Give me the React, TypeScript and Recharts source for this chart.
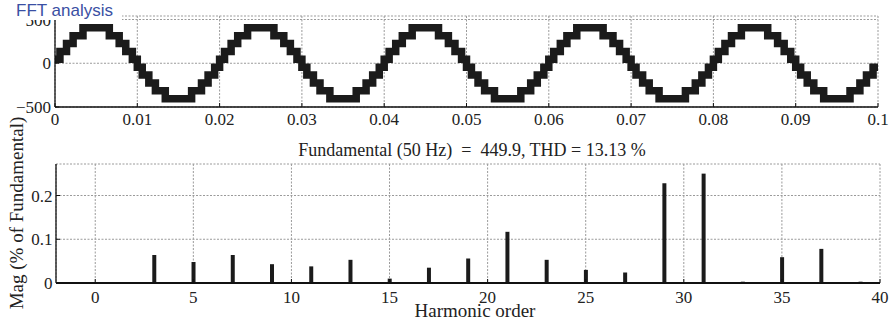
import { LineChart, Line, BarChart, Bar, XAxis, YAxis, CartesianGrid } from "recharts";

// top panel: staircase output voltage, one half-cycle
const timeTicks = [0, 0.01, 0.02, 0.03, 0.04, 0.05, 0.06, 0.07, 0.08, 0.09, 0.1];
const voltTicks = [-500, 0, 500];
const cycleStarts = [0, 0.02, 0.04, 0.06, 0.08];
const halfPeriod = 0.01;
const stepTimes = [0, 0.0006, 0.0014, 0.0022, 0.0034, 0.0066, 0.0078, 0.0086, 0.0094];
const stepLevels = [45, 135, 225, 315, 405, 315, 225, 135, 45];

// bottom panel: harmonic spectrum
const harmonicOrders = [
  0, 1, 2, 3, 4, 5, 6, 7, 8, 9, 10, 11, 12, 13, 14, 15, 16, 17, 18, 19, 20,
  21, 22, 23, 24, 25, 26, 27, 28, 29, 30, 31, 32, 33, 34, 35, 36, 37, 38, 39, 40,
];
const harmonicMag = [
  0, 0, 0, 0.064, 0, 0.048, 0, 0.064, 0, 0.043, 0, 0.038, 0, 0.053, 0, 0.01, 0, 0.035, 0, 0.056, 0,
  0.117, 0, 0.053, 0, 0.03, 0, 0.024, 0, 0.228, 0, 0.25, 0, 0.003, 0, 0.059, 0, 0.078, 0, 0.003, 0,
];
const orderTicks = [0, 5, 10, 15, 20, 25, 30, 35, 40];
const magTicks = [0, 0.1, 0.2];

const waveData: { t: number; v: number }[] = [];
cycleStarts.forEach((c) => {
  [1, -1].forEach((sign, h) => {
    stepTimes.forEach((t, i) => {
      waveData.push({ t: c + h * halfPeriod + t, v: sign * stepLevels[i] });
    });
  });
});
waveData.push({ t: 0.1, v: -stepLevels[0] });

const spectrumData = harmonicOrders.map((n, i) => ({ n, mag: harmonicMag[i] }));

const serif = "'Liberation Serif', 'Times New Roman', serif";
const tickStyle = { fill: "#222", fontSize: 17, fontFamily: serif };
const grid = { stroke: "#9a9a9a", strokeDasharray: "2 1.5" };
const frame = { stroke: "#111", strokeWidth: 1.3 };
const fmtNum = (v: number) => (v < 0 ? "\u2212" + Math.abs(v) : String(v));

export default function App() {
  return (
    <div style={{ position: "absolute", left: 0, top: 0, width: 896, height: 324, background: "#fff" }}>
      <div style={{ position: "absolute", left: 0, top: 0 }}>
        <LineChart width={896} height={130} data={waveData} margin={{ top: 16, right: 18, bottom: 0, left: 0 }}>
          <CartesianGrid {...grid} />
          <XAxis
            dataKey="t"
            type="number"
            domain={[0, 0.1]}
            ticks={timeTicks}
            interval={0}
            height={23}
            tickSize={-4}
            tickMargin={9.5}
            tick={tickStyle}
            tickFormatter={fmtNum}
            axisLine={frame}
            tickLine={{ stroke: "#111" }}
          />
          <XAxis
            xAxisId="top"
            orientation="top"
            type="number"
            domain={[0, 0.1]}
            ticks={timeTicks}
            interval={0}
            height={0}
            tickSize={-4}
            tick={false}
            axisLine={frame}
            tickLine={{ stroke: "#111" }}
          />
          <YAxis
            type="number"
            domain={[-500, 540]}
            ticks={voltTicks}
            interval={0}
            width={55}
            tickSize={-4}
            tickMargin={8}
            tick={tickStyle}
            tickFormatter={fmtNum}
            axisLine={frame}
            tickLine={{ stroke: "#111" }}
          />
          <YAxis
            yAxisId="right"
            orientation="right"
            type="number"
            domain={[-500, 540]}
            ticks={voltTicks}
            width={0}
            tickSize={-4}
            tick={false}
            axisLine={frame}
            tickLine={{ stroke: "#111" }}
          />
          <Line
            type="stepAfter"
            dataKey="v"
            stroke="#1b1b1b"
            strokeWidth={7.5}
            dot={false}
            isAnimationActive={false}
          />
        </LineChart>
      </div>

      <div
        style={{
          position: "absolute",
          left: 14,
          top: 0,
          width: 106,
          height: 20,
          background: "#fff",
          color: "#3a4fa3",
          fontFamily: "'Liberation Sans', Arial, sans-serif",
          fontSize: 17,
          lineHeight: "21px",
          paddingLeft: 2,
          whiteSpace: "nowrap",
        }}
      >
        FFT analysis
      </div>

      <div style={{ position: "absolute", left: 0, top: 130 }}>
        <BarChart width={896} height={194} data={spectrumData} margin={{ top: 34, right: 16, bottom: 0, left: 0 }}>
          <CartesianGrid {...grid} />
          <XAxis
            dataKey="n"
            type="number"
            domain={[-2, 40]}
            ticks={orderTicks}
            interval={0}
            height={41}
            tickSize={-4}
            tickMargin={12}
            tick={tickStyle}
            axisLine={{ stroke: "#111", strokeWidth: 2 }}
            tickLine={{ stroke: "#111" }}
          />
          <XAxis
            xAxisId="top"
            orientation="top"
            type="number"
            domain={[-2, 40]}
            ticks={orderTicks}
            interval={0}
            height={0}
            tickSize={-4}
            tick={false}
            axisLine={frame}
            tickLine={{ stroke: "#111" }}
          />
          <YAxis
            type="number"
            domain={[0, 0.272]}
            ticks={magTicks}
            interval={0}
            width={56}
            tickSize={-4}
            tickMargin={7.5}
            tick={tickStyle}
            axisLine={frame}
            tickLine={{ stroke: "#111" }}
          />
          <YAxis
            yAxisId="right"
            orientation="right"
            type="number"
            domain={[0, 0.272]}
            ticks={magTicks}
            width={0}
            tickSize={-4}
            tick={false}
            axisLine={frame}
            tickLine={{ stroke: "#111" }}
          />
          <Bar dataKey="mag" fill="#1b1b1b" barSize={4} isAnimationActive={false} />
        </BarChart>
      </div>

      <div
        style={{
          position: "absolute",
          left: 472,
          top: 150,
          transform: "translate(-50%, -50%)",
          fontFamily: serif,
          fontSize: 18,
          color: "#222",
          whiteSpace: "pre",
        }}
      >
        {"Fundamental (50 Hz)  =  449.9, THD = 13.13 %"}
      </div>
      <div
        style={{
          position: "absolute",
          left: 475,
          top: 311,
          transform: "translate(-50%, -50%)",
          fontFamily: serif,
          fontSize: 19,
          color: "#222",
          whiteSpace: "nowrap",
        }}
      >
        Harmonic order
      </div>
      <div
        style={{
          position: "absolute",
          left: 17,
          top: 213,
          transform: "translate(-50%, -50%) rotate(-90deg)",
          fontFamily: serif,
          fontSize: 19,
          color: "#222",
          whiteSpace: "nowrap",
        }}
      >
        Mag (% of Fundamental)
      </div>
    </div>
  );
}
